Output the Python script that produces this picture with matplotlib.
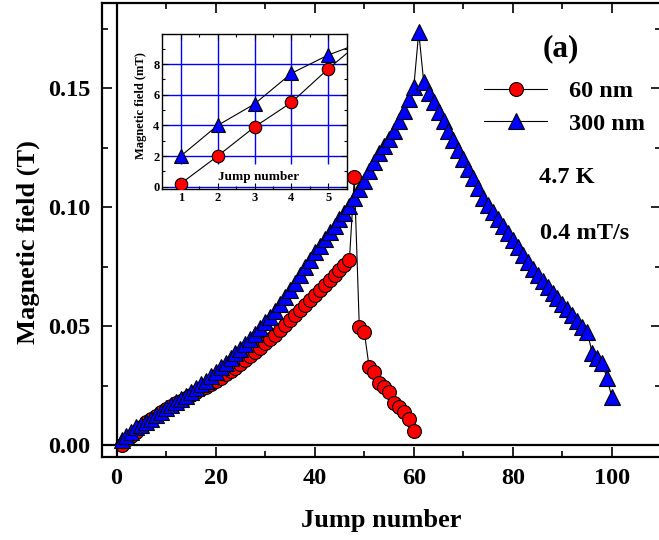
import matplotlib
matplotlib.use("Agg")
import matplotlib.pyplot as plt
from matplotlib.ticker import MultipleLocator, FormatStrFormatter

plt.rcParams['font.family'] = ['Liberation Serif', 'DejaVu Serif']
plt.rcParams['font.weight'] = 'bold'
plt.rcParams['axes.labelweight'] = 'bold'

# ---------------- data ----------------
jumps_60 = list(range(1, 61))
field_60 = [0.0002, 0.0020, 0.0039, 0.0055, 0.0077, 0.0097, 0.0110, 0.0123, 0.0137, 0.0150,
            0.0163, 0.0175, 0.0187, 0.0199, 0.0211, 0.0223, 0.0234, 0.0245, 0.0257, 0.0270,
            0.0283, 0.0297, 0.0311, 0.0325, 0.0340, 0.0356, 0.0373, 0.0390, 0.0408, 0.0427,
            0.0445, 0.0464, 0.0484, 0.0504, 0.0525, 0.0546, 0.0567, 0.0588, 0.0609, 0.0630,
            0.0651, 0.0672, 0.0693, 0.0714, 0.0735, 0.0756, 0.0777, 0.1125, 0.0497, 0.0476,
            0.0326, 0.0305, 0.0259, 0.0242, 0.0221, 0.0178, 0.0161, 0.0140, 0.0108, 0.0060]

jumps_300 = list(range(1, 101))
field_300 = [0.0020, 0.0040, 0.0054, 0.0074, 0.0086, 0.0095, 0.0110, 0.0125, 0.0140, 0.0155,
             0.0168, 0.0180, 0.0193, 0.0207, 0.0222, 0.0238, 0.0255, 0.0270, 0.0288, 0.0308,
             0.0326, 0.0345, 0.0365, 0.0385, 0.0405, 0.0425, 0.0445, 0.0465, 0.0490, 0.0515,
             0.0540, 0.0565, 0.0593, 0.0622, 0.0651, 0.0680, 0.0713, 0.0746, 0.0779, 0.0810,
             0.0838, 0.0866, 0.0893, 0.0920, 0.0948, 0.0976, 0.1005, 0.1040, 0.1075, 0.1110,
             0.1150, 0.1190, 0.1225, 0.1255, 0.1285, 0.1320, 0.1360, 0.1405, 0.1455, 0.1505,
             0.1735, 0.1525, 0.1480, 0.1440, 0.1400, 0.1360, 0.1320, 0.1280, 0.1240, 0.1200,
             0.1160, 0.1120, 0.1080, 0.1040, 0.1010, 0.0980, 0.0950, 0.0920, 0.0890, 0.0860,
             0.0830, 0.0800, 0.0770, 0.0740, 0.0715, 0.0690, 0.0665, 0.0640, 0.0617, 0.0593,
             0.0570, 0.0545, 0.0520, 0.0498, 0.0476, 0.0388, 0.0366, 0.0346, 0.0280, 0.0200]

labels = ['60 nm', '300 nm']
x_ticks = [0, 20, 40, 60, 80, 100]
y_ticks = [0.00, 0.05, 0.10, 0.15]
inset_x_ticks = [1, 2, 3, 4, 5]
inset_y_ticks = [0, 2, 4, 6, 8]

W, H = 659, 540
fig = plt.figure(figsize=(W / 100, H / 100), dpi=100)

def fx(px):
    return px / W

def fy(py):
    return 1 - py / H

# ---------------- main axes ----------------
L, R, T, B = 101.7, 661.5, 3.3, 456.7
ax = fig.add_axes([fx(L), fy(B), (R - L) / W, (B - T) / H])
ax.set_xlim(-3, 110)
ax.set_ylim(-0.0049, 0.1856)

ax.axhline(0, color='k', lw=1.6, zorder=1)
ax.axvline(0, color='k', lw=1.6, zorder=1)

ax.plot(jumps_60, field_60, color='k', lw=0.8, marker='o', ms=10,
        mfc='#FF0000', mec='k', mew=0.8, label=labels[0], zorder=3)
ax.plot(jumps_300, field_300, color='k', lw=0.8, marker='^', ms=11,
        mfc='#0000FF', mec='k', mew=0.8, label=labels[1], zorder=4)

for s in ax.spines.values():
    s.set_linewidth(1.6)
ax.set_xticks(x_ticks)
ax.set_yticks(y_ticks)
ax.xaxis.set_minor_locator(MultipleLocator(10))
ax.yaxis.set_minor_locator(MultipleLocator(0.025))
ax.yaxis.set_major_formatter(FormatStrFormatter('%.2f'))
ax.tick_params(which='both', direction='in', top=True, right=True, width=1.2)
ax.tick_params(which='major', length=7, labelsize=17.5, pad=8)
ax.tick_params(which='minor', length=4)

ax.set_xlabel('Jump number', fontsize=19, fontweight='bold')
ax.set_ylabel('Magnetic field (T)', fontsize=19, fontweight='bold')
ax.xaxis.set_label_coords(0.5, -0.115)
ax.yaxis.set_label_coords(-0.11, 0.474)

leg = ax.legend(loc='upper left', bbox_to_anchor=(fx(484), fy(80)),
                bbox_transform=fig.transFigure, frameon=False,
                prop={'family': 'Liberation Serif', 'weight': 'bold', 'size': 17.5},
                handlelength=2.6, handletextpad=0.9, labelspacing=0.45,
                borderpad=0, borderaxespad=0)

fig.text(fx(543), fy(56), '(a)', fontsize=22.5, fontweight='bold', ha='left', va='baseline')
fig.text(fx(539), fy(183), '4.7 K', fontsize=17.5, fontweight='bold', ha='left', va='baseline')
fig.text(fx(540), fy(239), '0.4 mT/s', fontsize=17.5, fontweight='bold', ha='left', va='baseline')

# ---------------- inset ----------------
iL, iR, iT, iB = 162.3, 346.7, 34.3, 189.0
axi = fig.add_axes([fx(iL), fy(iB), (iR - iL) / W, (iB - iT) / H])
axi.set_xlim(0.5, 5.5)
axi.set_ylim(-0.15, 9.95)
axi.set_axisbelow(True)
for yv in inset_y_ticks:
    axi.axhline(yv, color='#0000FF', lw=1.0, zorder=0)
axi.vlines(inset_x_ticks, 1.45, 9.95, color='#0000FF', lw=1.0, zorder=0)

axi.plot(jumps_60, [v * 1000 for v in field_60], color='k', lw=0.8, marker='o', ms=9,
         mfc='#FF0000', mec='k', mew=0.8, zorder=3)
axi.plot(jumps_300, [v * 1000 for v in field_300], color='k', lw=0.8, marker='^', ms=10,
         mfc='#0000FF', mec='k', mew=0.8, zorder=4)

for s in axi.spines.values():
    s.set_linewidth(1.0)
axi.set_xticks(inset_x_ticks)
axi.set_yticks(inset_y_ticks)
axi.yaxis.set_minor_locator(MultipleLocator(1))
axi.xaxis.set_minor_locator(MultipleLocator(0.5))
axi.tick_params(which='both', direction='in', top=True, right=True, width=0.8)
axi.tick_params(which='major', length=4, labelsize=9, pad=2)
axi.tick_params(which='minor', length=2)
axi.text(0.52, 0.078, 'Jump number', transform=axi.transAxes, fontsize=9.5,
         fontweight='bold', ha='center', va='center')
axi.set_ylabel('Magnetic field (mT)', fontsize=9, fontweight='bold')
axi.yaxis.set_label_coords(-0.085, 0.54)

fig.savefig('out.png', dpi=100)
